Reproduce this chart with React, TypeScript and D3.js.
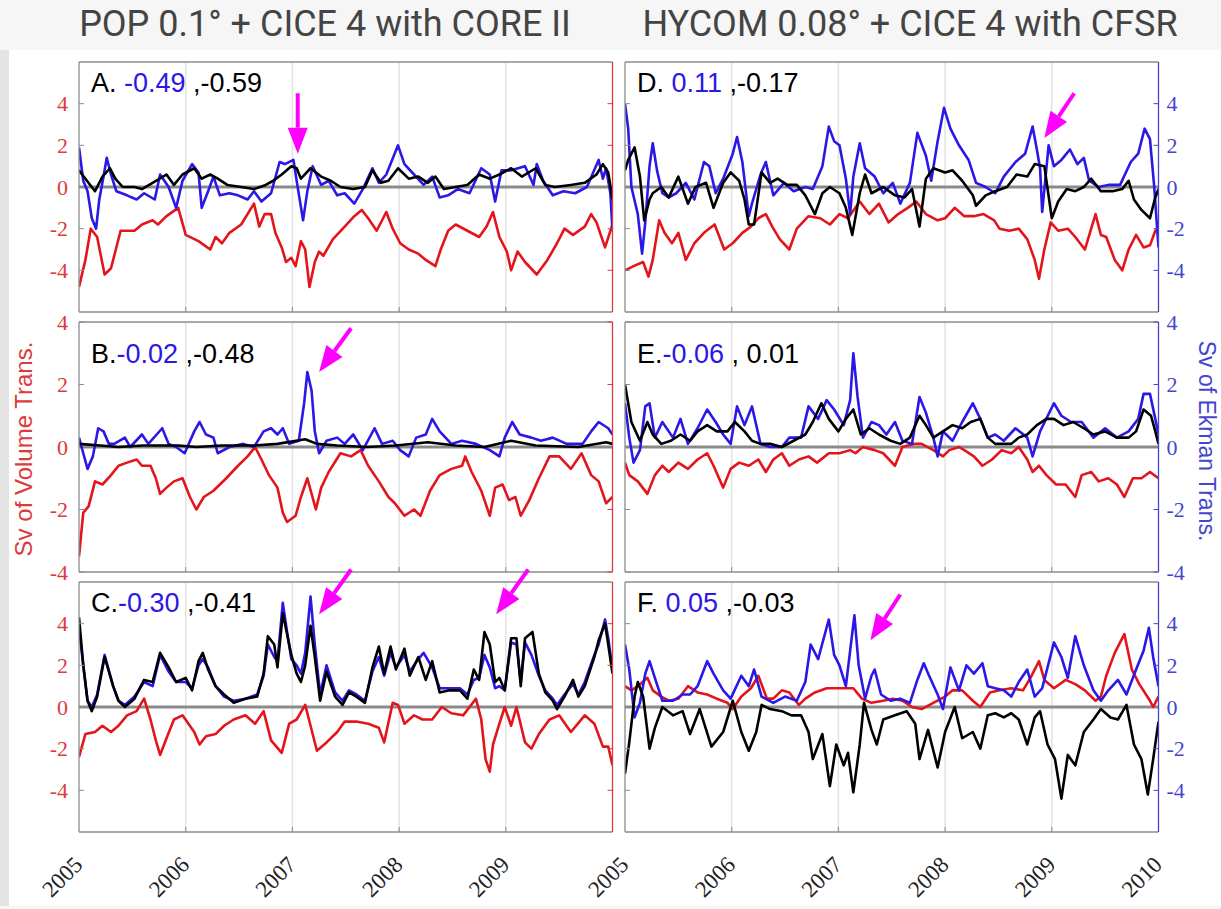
import React from 'react';
import * as d3 from 'd3';

// time (decimal year) / transport (Sv) pairs
const aRed = [[2005.00,-4.8],[2005.06,-3.5],[2005.11,-2.0],[2005.17,-2.4],[2005.24,-4.2],[2005.30,-3.9],[2005.39,-2.1],[2005.52,-2.1],[2005.59,-1.8],[2005.69,-1.6],[2005.74,-1.8],[2005.82,-1.4],[2005.93,-1.0],[2006.00,-2.3],[2006.12,-2.6],[2006.23,-3.0],[2006.28,-2.4],[2006.34,-2.7],[2006.41,-2.2],[2006.52,-1.8],[2006.64,-0.8],[2006.69,-1.9],[2006.74,-1.3],[2006.80,-1.3],[2006.84,-2.2],[2006.90,-2.9],[2006.94,-3.6],[2006.99,-3.4],[2007.03,-3.8],[2007.08,-2.6],[2007.12,-3.0],[2007.16,-4.8],[2007.21,-3.6],[2007.25,-3.1],[2007.29,-3.3],[2007.38,-2.5],[2007.49,-1.9],[2007.58,-1.4],[2007.65,-1.1],[2007.71,-1.5],[2007.79,-2.1],[2007.88,-1.2],[2007.94,-2.0],[2008.01,-2.7],[2008.09,-3.0],[2008.18,-3.2],[2008.25,-3.5],[2008.34,-3.8],[2008.39,-3.0],[2008.46,-2.1],[2008.53,-1.8],[2008.64,-2.1],[2008.75,-2.4],[2008.82,-1.9],[2008.88,-1.2],[2008.94,-2.4],[2009.01,-3.1],[2009.05,-4.0],[2009.11,-3.1],[2009.18,-3.6],[2009.29,-4.2],[2009.39,-3.5],[2009.48,-2.7],[2009.55,-2.0],[2009.63,-2.3],[2009.74,-1.9],[2009.80,-1.3],[2009.85,-1.7],[2009.93,-2.9],[2010.00,-1.8]];
const aBlue = [[2005.00,1.9],[2005.04,0.3],[2005.08,-0.2],[2005.12,-1.5],[2005.16,-2.0],[2005.19,-0.6],[2005.23,0.5],[2005.26,1.4],[2005.30,0.6],[2005.35,-0.2],[2005.45,-0.4],[2005.54,-0.6],[2005.61,-0.3],[2005.71,-0.6],[2005.76,0.6],[2005.84,0.0],[2005.91,-1.0],[2005.97,0.3],[2006.06,1.1],[2006.12,0.7],[2006.15,-1.0],[2006.21,-0.2],[2006.26,0.5],[2006.32,-0.4],[2006.41,-0.3],[2006.49,-0.4],[2006.58,-0.6],[2006.64,-0.2],[2006.71,-0.7],[2006.80,-0.3],[2006.88,1.2],[2006.93,1.1],[2007.01,1.3],[2007.04,0.3],[2007.10,-1.6],[2007.14,-0.2],[2007.19,1.0],[2007.27,0.1],[2007.34,0.3],[2007.42,-0.4],[2007.49,-0.3],[2007.58,-0.8],[2007.66,-0.1],[2007.75,0.9],[2007.81,0.2],[2007.88,0.6],[2007.99,2.0],[2008.05,1.1],[2008.14,0.6],[2008.23,0.1],[2008.31,0.5],[2008.38,-0.5],[2008.46,-0.4],[2008.55,-0.1],[2008.66,-0.3],[2008.77,0.9],[2008.85,0.6],[2008.90,-0.7],[2008.96,0.8],[2009.05,0.8],[2009.18,1.0],[2009.26,0.1],[2009.29,1.1],[2009.35,0.3],[2009.44,-0.4],[2009.54,-0.2],[2009.65,-0.3],[2009.76,0.0],[2009.87,1.3],[2009.91,0.4],[2009.94,0.9],[2009.98,-0.3],[2010.00,-2.1]];
const aBlack = [[2005.00,0.8],[2005.06,0.4],[2005.15,-0.2],[2005.22,0.5],[2005.29,0.9],[2005.34,0.4],[2005.41,0.0],[2005.52,0.0],[2005.59,-0.1],[2005.69,0.2],[2005.82,0.6],[2005.89,0.1],[2005.97,0.6],[2006.08,0.9],[2006.15,0.4],[2006.23,0.6],[2006.30,0.4],[2006.39,0.1],[2006.52,0.0],[2006.64,-0.1],[2006.75,0.1],[2006.82,0.3],[2006.90,0.6],[2006.99,1.0],[2007.04,0.9],[2007.08,0.4],[2007.17,0.9],[2007.27,0.5],[2007.36,0.3],[2007.45,0.0],[2007.57,-0.1],[2007.68,0.0],[2007.75,0.8],[2007.83,0.2],[2007.90,0.3],[2007.99,0.9],[2008.09,0.4],[2008.18,0.5],[2008.27,0.2],[2008.34,0.5],[2008.42,-0.1],[2008.53,0.0],[2008.64,0.1],[2008.75,0.6],[2008.85,0.4],[2008.94,0.6],[2009.05,0.9],[2009.15,0.5],[2009.28,0.9],[2009.37,0.1],[2009.46,0.0],[2009.61,0.1],[2009.74,0.2],[2009.85,0.6],[2009.91,1.1],[2009.96,0.7],[2010.00,-0.6]];

const bRed = [[2005.00,-3.5],[2005.04,-2.1],[2005.09,-1.9],[2005.15,-1.1],[2005.22,-1.2],[2005.30,-0.9],[2005.37,-0.6],[2005.45,-0.5],[2005.54,-0.4],[2005.59,-0.6],[2005.67,-0.6],[2005.72,-1.0],[2005.76,-1.5],[2005.82,-1.3],[2005.89,-1.1],[2005.97,-1.0],[2006.04,-1.6],[2006.10,-2.0],[2006.17,-1.6],[2006.26,-1.4],[2006.38,-1.0],[2006.49,-0.6],[2006.58,-0.3],[2006.65,0.0],[2006.71,-0.4],[2006.78,-0.9],[2006.86,-1.3],[2006.91,-2.1],[2006.95,-2.4],[2007.03,-2.2],[2007.08,-1.6],[2007.14,-1.0],[2007.18,-1.5],[2007.22,-2.0],[2007.27,-1.3],[2007.34,-0.8],[2007.45,-0.2],[2007.55,-0.3],[2007.64,-0.1],[2007.71,-0.6],[2007.81,-1.1],[2007.90,-1.6],[2007.96,-1.8],[2008.05,-2.2],[2008.14,-2.0],[2008.20,-2.2],[2008.29,-1.4],[2008.38,-0.9],[2008.49,-0.7],[2008.59,-0.6],[2008.62,-0.3],[2008.68,-0.8],[2008.77,-1.4],[2008.85,-2.2],[2008.90,-1.3],[2008.97,-1.2],[2009.03,-1.7],[2009.09,-1.6],[2009.14,-2.2],[2009.22,-1.7],[2009.31,-1.0],[2009.41,-0.3],[2009.50,-0.3],[2009.61,-0.7],[2009.71,-0.2],[2009.80,-0.9],[2009.87,-1.1],[2009.94,-1.8],[2010.00,-1.6]];
const bBlue = [[2005.00,0.3],[2005.04,-0.2],[2005.08,-0.7],[2005.13,-0.3],[2005.18,0.6],[2005.23,0.5],[2005.28,0.1],[2005.33,0.1],[2005.43,0.3],[2005.48,0.0],[2005.59,0.4],[2005.65,0.1],[2005.78,0.6],[2005.84,0.1],[2005.91,0.0],[2005.99,-0.2],[2006.08,0.5],[2006.13,0.8],[2006.19,0.4],[2006.26,0.3],[2006.30,-0.2],[2006.41,0.0],[2006.54,0.1],[2006.64,0.0],[2006.73,0.5],[2006.80,0.6],[2006.86,0.4],[2006.91,0.6],[2006.97,0.1],[2007.06,0.2],[2007.11,1.4],[2007.14,2.4],[2007.18,1.8],[2007.21,0.5],[2007.25,-0.2],[2007.32,0.2],[2007.42,0.3],[2007.49,0.1],[2007.57,0.4],[2007.66,-0.1],[2007.77,0.6],[2007.84,0.1],[2007.94,0.2],[2008.01,-0.1],[2008.09,-0.3],[2008.16,0.3],[2008.25,0.4],[2008.31,0.9],[2008.38,0.5],[2008.49,0.1],[2008.59,0.2],[2008.72,0.1],[2008.85,-0.1],[2008.94,-0.3],[2008.99,0.3],[2009.06,0.8],[2009.13,0.4],[2009.24,0.3],[2009.33,0.2],[2009.44,0.3],[2009.57,0.1],[2009.72,0.1],[2009.80,0.5],[2009.87,0.8],[2009.96,0.6],[2010.00,0.4]];
const bBlack = [[2005.00,0.1],[2005.20,0.05],[2005.37,0.0],[2005.60,0.05],[2005.93,0.05],[2006.10,0.0],[2006.34,0.05],[2006.64,0.05],[2006.86,0.1],[2007.12,0.25],[2007.23,0.1],[2007.42,0.05],[2007.70,0.0],[2007.97,0.05],[2008.27,0.15],[2008.53,0.05],[2008.80,0.0],[2009.05,0.2],[2009.28,0.05],[2009.68,0.0],[2009.94,0.15],[2010.00,0.1]];

const cRed = [[2005.00,-2.4],[2005.06,-1.3],[2005.15,-1.2],[2005.22,-0.9],[2005.30,-1.2],[2005.37,-0.9],[2005.45,-0.4],[2005.54,-0.2],[2005.61,0.4],[2005.67,-0.6],[2005.72,-1.6],[2005.76,-2.3],[2005.82,-1.5],[2005.89,-0.6],[2005.97,-0.4],[2006.08,-1.2],[2006.13,-1.8],[2006.19,-1.4],[2006.28,-1.3],[2006.36,-0.9],[2006.45,-0.6],[2006.56,-0.4],[2006.65,-0.8],[2006.73,-0.2],[2006.80,-1.6],[2006.90,-2.2],[2006.97,-0.8],[2007.04,-0.6],[2007.12,0.1],[2007.17,-0.9],[2007.23,-2.1],[2007.32,-1.7],[2007.42,-1.2],[2007.49,-0.7],[2007.60,-0.7],[2007.71,-0.8],[2007.81,-1.0],[2007.86,-1.7],[2007.94,0.2],[2007.99,0.1],[2008.05,-0.8],[2008.14,-0.4],[2008.22,-0.6],[2008.31,-0.6],[2008.40,0.0],[2008.49,-0.3],[2008.60,-0.4],[2008.72,0.4],[2008.77,-0.6],[2008.81,-2.5],[2008.85,-3.1],[2008.88,-1.8],[2008.94,-0.8],[2008.99,0.0],[2009.05,-0.9],[2009.10,0.0],[2009.18,-1.7],[2009.24,-2.0],[2009.31,-1.3],[2009.41,-0.6],[2009.50,-0.4],[2009.61,-1.2],[2009.74,-0.4],[2009.83,-0.8],[2009.91,-1.9],[2009.96,-1.9],[2010.00,-2.8]];
const cBlue = [[2005.00,3.8],[2005.04,2.0],[2005.08,0.3],[2005.12,0.0],[2005.17,0.6],[2005.24,2.5],[2005.32,1.0],[2005.37,0.3],[2005.43,0.1],[2005.52,0.5],[2005.61,1.2],[2005.69,1.0],[2005.76,2.5],[2005.84,1.7],[2005.91,1.2],[2006.00,1.2],[2006.06,0.9],[2006.12,2.0],[2006.16,2.3],[2006.21,1.9],[2006.28,1.0],[2006.36,0.5],[2006.45,0.3],[2006.56,0.4],[2006.67,0.6],[2006.73,1.5],[2006.77,3.0],[2006.83,2.4],[2006.86,2.2],[2006.91,5.0],[2006.95,3.6],[2006.99,2.3],[2007.04,2.0],[2007.08,1.6],[2007.12,2.6],[2007.17,5.3],[2007.21,3.0],[2007.26,0.6],[2007.32,2.0],[2007.40,0.7],[2007.47,0.3],[2007.53,0.8],[2007.60,0.6],[2007.68,0.3],[2007.75,1.7],[2007.81,2.4],[2007.86,1.5],[2007.92,2.6],[2007.97,1.9],[2008.05,2.5],[2008.10,1.7],[2008.18,2.3],[2008.23,2.6],[2008.31,1.9],[2008.38,0.9],[2008.47,0.9],[2008.57,0.9],[2008.64,0.6],[2008.70,1.3],[2008.75,1.4],[2008.80,2.5],[2008.85,1.9],[2008.90,0.9],[2008.94,1.0],[2008.99,0.8],[2009.05,3.1],[2009.10,3.0],[2009.14,1.2],[2009.18,3.1],[2009.24,2.5],[2009.31,1.5],[2009.37,0.8],[2009.44,0.4],[2009.48,0.1],[2009.55,0.6],[2009.63,1.1],[2009.68,0.6],[2009.74,1.2],[2009.83,2.5],[2009.87,3.0],[2009.93,4.2],[2009.96,3.3],[2010.00,1.8]];
const cBlack = [[2005.00,4.3],[2005.04,2.0],[2005.08,0.3],[2005.12,-0.2],[2005.17,0.5],[2005.24,2.4],[2005.32,1.0],[2005.37,0.3],[2005.43,0.0],[2005.52,0.4],[2005.61,1.3],[2005.69,1.2],[2005.76,2.6],[2005.84,1.9],[2005.91,1.2],[2006.00,1.4],[2006.06,0.8],[2006.12,2.2],[2006.16,2.6],[2006.21,1.8],[2006.28,1.0],[2006.36,0.6],[2006.45,0.2],[2006.56,0.4],[2006.67,0.5],[2006.73,1.6],[2006.77,3.4],[2006.83,3.0],[2006.86,1.9],[2006.91,4.5],[2006.95,3.5],[2006.99,2.5],[2007.04,1.6],[2007.08,1.2],[2007.12,2.0],[2007.17,3.9],[2007.21,2.4],[2007.26,0.3],[2007.32,1.7],[2007.40,0.5],[2007.47,0.1],[2007.53,0.7],[2007.60,0.5],[2007.68,0.2],[2007.75,1.9],[2007.81,2.9],[2007.86,1.6],[2007.92,2.9],[2007.97,1.8],[2008.05,2.8],[2008.10,1.5],[2008.18,2.4],[2008.25,1.3],[2008.31,2.2],[2008.38,0.7],[2008.47,0.8],[2008.57,0.8],[2008.64,0.4],[2008.70,1.8],[2008.75,1.3],[2008.80,3.6],[2008.85,3.0],[2008.90,1.2],[2008.94,1.4],[2008.99,0.8],[2009.05,3.3],[2009.10,3.3],[2009.14,1.0],[2009.18,3.3],[2009.25,3.6],[2009.31,1.6],[2009.37,0.7],[2009.44,0.3],[2009.48,-0.1],[2009.55,0.5],[2009.63,1.3],[2009.68,0.5],[2009.74,1.0],[2009.83,2.4],[2009.87,3.2],[2009.93,4.0],[2009.96,3.0],[2010.00,1.6]];

const dRed = [[2005.00,-4.0],[2005.08,-3.8],[2005.17,-3.6],[2005.22,-4.3],[2005.26,-3.5],[2005.32,-1.6],[2005.37,-2.2],[2005.44,-2.7],[2005.50,-2.2],[2005.57,-3.5],[2005.65,-2.7],[2005.74,-2.2],[2005.84,-1.8],[2005.93,-3.0],[2006.01,-2.7],[2006.10,-2.2],[2006.18,-1.9],[2006.25,-1.5],[2006.32,-1.3],[2006.38,-1.9],[2006.45,-2.5],[2006.54,-3.0],[2006.61,-2.0],[2006.72,-1.4],[2006.83,-1.5],[2006.92,-1.8],[2007.01,-1.3],[2007.09,-1.5],[2007.20,-0.7],[2007.29,-1.3],[2007.38,-0.8],[2007.47,-1.7],[2007.56,-1.3],[2007.65,-1.0],[2007.73,-0.7],[2007.82,-1.3],[2007.93,-1.6],[2008.00,-1.5],[2008.09,-1.0],[2008.18,-1.4],[2008.27,-1.4],[2008.36,-1.3],[2008.46,-1.6],[2008.51,-2.0],[2008.60,-2.1],[2008.69,-2.0],[2008.77,-2.5],[2008.84,-3.5],[2008.88,-4.4],[2008.93,-3.0],[2008.99,-1.7],[2009.06,-2.1],[2009.15,-2.0],[2009.22,-2.4],[2009.31,-3.0],[2009.41,-1.3],[2009.46,-2.3],[2009.51,-2.4],[2009.59,-3.5],[2009.66,-4.0],[2009.72,-3.0],[2009.79,-2.3],[2009.86,-2.9],[2009.92,-2.8],[2009.97,-2.1],[2010.00,-2.0]];
const dBlue = [[2005.00,4.0],[2005.03,2.8],[2005.06,0.0],[2005.12,-1.3],[2005.16,-3.2],[2005.19,-1.7],[2005.23,1.0],[2005.26,2.1],[2005.30,0.8],[2005.35,-0.3],[2005.41,-0.5],[2005.48,-0.3],[2005.57,0.2],[2005.65,-0.6],[2005.74,1.2],[2005.79,1.0],[2005.85,-0.3],[2005.92,0.4],[2006.01,1.6],[2006.05,2.4],[2006.10,1.2],[2006.16,-1.4],[2006.19,-0.8],[2006.27,0.6],[2006.32,1.2],[2006.39,-0.4],[2006.49,0.2],[2006.58,-0.2],[2006.69,0.0],[2006.76,-0.1],[2006.85,1.0],[2006.91,2.9],[2006.96,2.2],[2007.01,2.0],[2007.07,0.4],[2007.11,-1.3],[2007.14,0.5],[2007.20,2.1],[2007.25,0.9],[2007.34,0.5],[2007.42,-0.3],[2007.51,0.2],[2007.58,-0.8],[2007.67,0.2],[2007.74,2.6],[2007.82,1.5],[2007.87,0.3],[2007.93,2.2],[2007.99,3.8],[2008.05,2.8],[2008.13,2.0],[2008.22,1.3],[2008.29,0.2],[2008.38,0.0],[2008.47,-0.3],[2008.55,0.5],[2008.66,1.2],[2008.75,1.6],[2008.82,2.9],[2008.86,1.8],[2008.89,0.9],[2008.91,-1.2],[2008.97,2.0],[2009.02,1.0],[2009.09,1.3],[2009.17,1.8],[2009.24,1.1],[2009.30,1.4],[2009.35,0.3],[2009.44,0.0],[2009.53,0.1],[2009.64,0.1],[2009.74,1.2],[2009.81,1.6],[2009.87,2.8],[2009.92,2.3],[2009.96,0.0],[2010.00,-2.9]];
const dBlack = [[2005.00,0.8],[2005.03,1.3],[2005.09,1.9],[2005.14,0.5],[2005.18,-1.6],[2005.23,-0.6],[2005.26,-0.3],[2005.34,0.0],[2005.41,-0.5],[2005.50,0.5],[2005.59,-0.8],[2005.66,0.0],[2005.76,0.2],[2005.83,-1.0],[2005.92,0.2],[2005.99,0.7],[2006.07,0.3],[2006.12,-0.6],[2006.16,-1.8],[2006.21,-1.8],[2006.28,0.7],[2006.36,0.2],[2006.43,0.4],[2006.52,0.1],[2006.61,0.1],[2006.69,-0.4],[2006.78,-1.3],[2006.85,-0.3],[2006.92,0.0],[2007.01,-0.3],[2007.07,-1.0],[2007.13,-2.3],[2007.20,-0.3],[2007.25,0.6],[2007.31,-0.3],[2007.42,0.0],[2007.53,-0.4],[2007.62,-0.5],[2007.69,-0.1],[2007.76,-1.9],[2007.82,0.4],[2007.89,0.9],[2008.00,0.7],[2008.07,0.8],[2008.16,0.3],[2008.26,-0.4],[2008.29,-0.9],[2008.38,-0.4],[2008.47,-0.2],[2008.58,0.0],[2008.67,0.6],[2008.77,0.5],[2008.84,1.1],[2008.93,1.0],[2009.00,-1.5],[2009.06,-0.7],[2009.14,-0.1],[2009.22,-0.2],[2009.30,0.0],[2009.37,0.4],[2009.46,-0.2],[2009.57,-0.2],[2009.66,-0.1],[2009.72,0.3],[2009.77,-0.6],[2009.84,-1.1],[2009.92,-1.5],[2009.97,-0.5],[2010.00,-0.1]];

const eRed = [[2005.00,-0.5],[2005.04,-0.9],[2005.12,-1.1],[2005.21,-1.5],[2005.28,-0.9],[2005.35,-0.6],[2005.41,-0.8],[2005.50,-0.5],[2005.59,-0.7],[2005.68,-0.4],[2005.77,-0.2],[2005.83,-0.6],[2005.92,-1.3],[2005.99,-0.7],[2006.07,-0.5],[2006.16,-0.6],[2006.25,-0.4],[2006.32,-0.8],[2006.39,-0.4],[2006.47,-0.2],[2006.54,-0.6],[2006.63,-0.4],[2006.72,-0.3],[2006.80,-0.5],[2006.91,-0.2],[2007.01,-0.2],[2007.11,-0.1],[2007.16,-0.2],[2007.23,0.0],[2007.34,-0.1],[2007.42,-0.2],[2007.53,-0.6],[2007.60,0.0],[2007.71,0.1],[2007.78,0.1],[2007.89,-0.1],[2007.98,-0.3],[2008.04,-0.1],[2008.13,0.0],[2008.18,-0.1],[2008.27,-0.3],[2008.35,-0.6],[2008.44,-0.4],[2008.53,-0.1],[2008.62,-0.2],[2008.69,0.0],[2008.77,-0.4],[2008.82,-0.8],[2008.88,-0.6],[2008.95,-0.9],[2009.04,-1.2],[2009.13,-1.2],[2009.22,-1.6],[2009.28,-0.9],[2009.37,-0.8],[2009.44,-1.1],[2009.53,-1.0],[2009.61,-1.2],[2009.68,-1.6],[2009.76,-1.0],[2009.84,-1.0],[2009.92,-0.8],[2010.00,-1.0]];
const eBlue = [[2005.00,1.4],[2005.04,0.3],[2005.08,-0.5],[2005.14,-0.1],[2005.19,1.3],[2005.23,1.4],[2005.28,0.3],[2005.35,0.8],[2005.45,0.3],[2005.52,0.9],[2005.59,0.1],[2005.68,0.6],[2005.77,1.2],[2005.85,0.8],[2005.92,0.4],[2005.99,0.1],[2006.05,1.3],[2006.12,0.7],[2006.19,1.3],[2006.27,0.1],[2006.36,0.0],[2006.47,0.0],[2006.54,0.3],[2006.65,0.3],[2006.72,1.3],[2006.81,0.9],[2006.89,1.5],[2006.96,1.2],[2007.05,0.7],[2007.11,1.5],[2007.14,3.0],[2007.18,1.6],[2007.23,0.3],[2007.31,0.8],[2007.38,0.7],[2007.45,0.4],[2007.53,0.8],[2007.60,0.2],[2007.69,0.1],[2007.76,1.6],[2007.82,1.1],[2007.89,0.3],[2007.93,-0.3],[2007.98,0.5],[2008.07,0.2],[2008.16,0.8],[2008.26,1.4],[2008.33,0.9],[2008.40,0.3],[2008.47,0.4],[2008.55,0.2],[2008.66,0.6],[2008.77,0.3],[2008.82,-0.3],[2008.89,0.5],[2009.02,1.4],[2009.09,1.0],[2009.18,0.8],[2009.28,0.8],[2009.39,0.3],[2009.50,0.6],[2009.61,0.3],[2009.72,0.5],[2009.81,0.9],[2009.86,1.7],[2009.92,1.7],[2009.97,0.9],[2010.00,0.4]];
const eBlack = [[2005.00,2.0],[2005.06,0.8],[2005.14,0.2],[2005.21,0.8],[2005.26,0.4],[2005.34,0.1],[2005.43,0.2],[2005.52,0.4],[2005.61,0.2],[2005.68,0.5],[2005.77,0.7],[2005.86,0.5],[2005.96,0.5],[2006.03,0.8],[2006.12,0.5],[2006.19,0.2],[2006.27,0.1],[2006.36,0.1],[2006.47,0.0],[2006.58,0.2],[2006.69,0.4],[2006.76,0.8],[2006.84,1.4],[2006.91,0.9],[2007.00,0.5],[2007.07,0.9],[2007.14,1.2],[2007.21,0.4],[2007.29,0.6],[2007.38,0.4],[2007.49,0.2],[2007.58,0.1],[2007.67,0.3],[2007.76,1.0],[2007.82,0.7],[2007.89,0.3],[2007.98,0.5],[2008.07,0.7],[2008.16,0.6],[2008.24,0.8],[2008.33,0.9],[2008.40,0.3],[2008.47,0.1],[2008.55,0.1],[2008.62,0.1],[2008.69,0.3],[2008.77,0.4],[2008.86,0.7],[2008.95,0.9],[2009.02,0.9],[2009.11,0.7],[2009.20,0.8],[2009.30,0.6],[2009.39,0.4],[2009.50,0.5],[2009.61,0.3],[2009.72,0.3],[2009.79,0.5],[2009.86,1.2],[2009.93,1.0],[2009.97,0.5],[2010.00,0.1]];

const fRed = [[2005.00,1.0],[2005.06,0.8],[2005.12,1.0],[2005.21,1.4],[2005.26,0.8],[2005.34,0.5],[2005.41,0.3],[2005.50,0.4],[2005.59,1.0],[2005.68,0.7],[2005.77,0.6],[2005.86,0.4],[2005.96,0.2],[2006.01,-0.1],[2006.09,0.5],[2006.18,0.9],[2006.25,1.5],[2006.33,0.4],[2006.39,0.4],[2006.47,0.8],[2006.54,0.7],[2006.63,0.1],[2006.69,0.4],[2006.78,0.7],[2006.89,0.9],[2006.96,0.9],[2007.05,0.9],[2007.14,0.9],[2007.22,0.4],[2007.31,0.2],[2007.42,0.3],[2007.51,0.4],[2007.60,0.3],[2007.69,0.0],[2007.78,-0.1],[2007.89,0.2],[2008.00,0.5],[2008.07,0.8],[2008.16,0.8],[2008.26,0.3],[2008.33,0.0],[2008.42,0.7],[2008.51,0.8],[2008.62,0.9],[2008.73,0.8],[2008.80,1.4],[2008.88,2.2],[2008.93,1.3],[2009.02,0.9],[2009.13,1.3],[2009.22,1.1],[2009.31,0.8],[2009.41,0.3],[2009.46,0.5],[2009.51,1.5],[2009.59,2.6],[2009.68,3.5],[2009.75,1.8],[2009.82,1.1],[2009.92,0.3],[2009.95,0.0],[2010.00,0.5]];
const fBlue = [[2005.00,3.0],[2005.04,1.8],[2005.09,-0.5],[2005.14,0.2],[2005.19,1.6],[2005.23,2.2],[2005.28,1.4],[2005.35,0.3],[2005.45,0.3],[2005.54,0.6],[2005.61,0.6],[2005.68,1.0],[2005.77,2.2],[2005.83,1.6],[2005.92,0.8],[2005.99,0.4],[2006.09,1.5],[2006.16,1.0],[2006.21,1.8],[2006.28,0.5],[2006.39,0.2],[2006.50,0.5],[2006.61,0.3],[2006.69,1.2],[2006.74,3.0],[2006.81,2.3],[2006.91,4.2],[2006.96,2.5],[2007.01,2.0],[2007.07,1.0],[2007.15,4.4],[2007.19,2.0],[2007.25,0.4],[2007.31,1.5],[2007.34,1.8],[2007.40,0.6],[2007.49,0.3],[2007.58,0.4],[2007.67,0.2],[2007.74,1.3],[2007.80,2.1],[2007.85,1.5],[2007.93,0.6],[2007.98,-0.1],[2008.05,1.9],[2008.13,0.8],[2008.20,2.0],[2008.27,1.6],[2008.35,2.1],[2008.40,1.0],[2008.47,0.9],[2008.55,0.8],[2008.62,0.5],[2008.69,1.2],[2008.77,1.8],[2008.84,0.5],[2008.91,0.9],[2009.02,3.1],[2009.09,2.4],[2009.15,1.4],[2009.22,3.4],[2009.30,2.0],[2009.39,0.8],[2009.46,0.3],[2009.53,0.8],[2009.62,1.3],[2009.70,0.6],[2009.79,1.8],[2009.86,2.7],[2009.91,3.8],[2009.95,2.4],[2010.00,1.0]];
const fBlack = [[2005.00,-3.2],[2005.04,-1.7],[2005.09,0.5],[2005.12,1.2],[2005.17,0.5],[2005.23,-2.0],[2005.28,-1.0],[2005.35,0.0],[2005.45,-0.4],[2005.54,-0.2],[2005.61,-1.3],[2005.70,-0.1],[2005.81,-1.9],[2005.92,-1.2],[2006.01,0.3],[2006.09,-1.2],[2006.16,-2.1],[2006.23,-1.2],[2006.28,0.1],[2006.36,-0.1],[2006.47,-0.2],[2006.56,-0.4],[2006.65,-0.4],[2006.72,-1.2],[2006.76,-2.5],[2006.85,-1.3],[2006.92,-3.8],[2006.98,-1.8],[2007.05,-2.8],[2007.09,-2.2],[2007.14,-4.1],[2007.20,-1.8],[2007.24,0.2],[2007.31,-1.1],[2007.36,-1.8],[2007.42,-0.6],[2007.53,-0.4],[2007.64,-0.2],[2007.72,-0.8],[2007.76,-2.5],[2007.84,-1.1],[2007.93,-2.9],[2008.00,-1.2],[2008.09,0.0],[2008.16,-1.5],[2008.26,-1.2],[2008.33,-2.0],[2008.40,-0.4],[2008.47,-0.3],[2008.55,-0.5],[2008.62,-0.3],[2008.69,-0.6],[2008.77,-1.8],[2008.84,-0.5],[2008.89,-0.2],[2008.96,-1.8],[2009.03,-2.5],[2009.09,-4.4],[2009.15,-2.3],[2009.22,-2.8],[2009.30,-1.2],[2009.39,-0.6],[2009.46,-0.1],[2009.55,-0.5],[2009.62,-0.6],[2009.70,0.1],[2009.77,-1.8],[2009.84,-2.5],[2009.90,-4.2],[2009.95,-2.5],[2010.00,-0.7]];

// panel labels: letter, blue correlation, black correlation
const panelLetters = ['A. ', 'B.', 'C.', 'D. ', 'E.', 'F. '];
const blueCorr = ['-0.49', '-0.02', '-0.30', '0.11', '-0.06', '0.05'];
const blackCorr = [' ,-0.59', ' ,-0.48', ' ,-0.41', ' ,-0.17', ' , 0.01', ' ,-0.03'];

// arrows as [tailYear, tailValue, tipYear, tipValue]
const arrowsA = [[2007.05, 4.5, 2007.05, 1.6]];
const arrowsB = [[2007.55, 3.8, 2007.25, 2.4]];
const arrowsC = [[2007.55, 6.6, 2007.25, 4.45], [2009.21, 6.6, 2008.91, 4.45]];
const arrowsD = [[2009.21, 4.5, 2008.93, 2.35]];
const arrowsE: number[][] = [];
const arrowsF = [[2007.58, 5.4, 2007.3, 3.2]];

const years = [2005, 2006, 2007, 2008, 2009, 2010];
const yTicks = [-4, -2, 0, 2, 4];
const titles = ['POP 0.1° + CICE 4 with CORE II', 'HYCOM 0.08° + CICE 4 with CFSR'];

const RED = '#e3151b';
const BLUE = '#2b17e6';
const AX_RED = '#dd3a3a';
const AX_BLUE = '#4646cc';
const SERIF = 'Liberation Serif';
const SANS = 'Liberation Sans';

const cols = [{ x0: 79, x1: 612.5 }, { x0: 625, x1: 1158.5 }];
const rows = [{ y0: 62, y1: 312 }, { y0: 322, y1: 572 }, { y0: 582, y1: 832 }];

const panels = [
  { col: 0, row: 0, red: aRed, blue: aBlue, black: aBlack, arrows: arrowsA },
  { col: 0, row: 1, red: bRed, blue: bBlue, black: bBlack, arrows: arrowsB },
  { col: 0, row: 2, red: cRed, blue: cBlue, black: cBlack, arrows: arrowsC },
  { col: 1, row: 0, red: dRed, blue: dBlue, black: dBlack, arrows: arrowsD },
  { col: 1, row: 1, red: eRed, blue: eBlue, black: eBlack, arrows: arrowsE },
  { col: 1, row: 2, red: fRed, blue: fBlue, black: fBlack, arrows: arrowsF },
];

const Arrow = ({ x1, y1, x2, y2 }) => {
  const ang = Math.atan2(y2 - y1, x2 - x1);
  const hl = 26, hw = 10;
  const bx = x2 - hl * Math.cos(ang), by = y2 - hl * Math.sin(ang);
  const px = -Math.sin(ang) * hw, py = Math.cos(ang) * hw;
  return (
    <g>
      <line x1={x1} y1={y1} x2={bx} y2={by} stroke="#ff00ff" strokeWidth={4} />
      <polygon points={`${x2},${y2} ${bx + px},${by + py} ${bx - px},${by - py}`} fill="#ff00ff" />
    </g>
  );
};

const Panel = ({ p, i }) => {
  const c = cols[p.col], r = rows[p.row];
  const lim = p.row === 1 ? 4 : 6;
  const x = d3.scaleLinear().domain([2005, 2010]).range([c.x0, c.x1]);
  const y = d3.scaleLinear().domain([-lim, lim]).range([r.y1, r.y0]);
  const line = d3.line().x(d => x(d[0])).y(d => y(d[1]));
  const clip = `clip${i}`;
  const sideColor = p.col === 0 ? AX_RED : AX_BLUE;
  const labelY = y(p.row === 1 ? 3 : 5) + 9.5;
  return (
    <g>
      <defs>
        <clipPath id={clip}>
          <rect x={c.x0} y={r.y0} width={c.x1 - c.x0} height={r.y1 - r.y0} />
        </clipPath>
      </defs>
      <rect x={c.x0} y={r.y0} width={c.x1 - c.x0} height={r.y1 - r.y0} fill="#fff" />
      {years.slice(1, -1).map(yr => (
        <line key={yr} x1={x(yr)} x2={x(yr)} y1={r.y0} y2={r.y1} stroke="#e2e2e2" strokeWidth={1.5} />
      ))}
      <line x1={c.x0} x2={c.x1} y1={y(0)} y2={y(0)} stroke="#8a8a8a" strokeWidth={3} />
      <g clipPath={`url(#${clip})`} fill="none" strokeWidth={2.6} strokeLinejoin="round">
        <path d={line(p.red)} stroke={RED} />
        <path d={line(p.blue)} stroke={BLUE} />
        <path d={line(p.black)} stroke="#000" />
      </g>
      {/* frame */}
      <line x1={c.x0} x2={c.x1} y1={r.y0} y2={r.y0} stroke="#8c8c8c" strokeWidth={1.3} />
      <line x1={c.x0} x2={c.x1} y1={r.y1} y2={r.y1} stroke="#8c8c8c" strokeWidth={1.3} />
      <line x1={c.x0} x2={c.x0} y1={r.y0} y2={r.y1} stroke="#8c8c8c" strokeWidth={1.3} />
      <line x1={c.x1} x2={c.x1} y1={r.y0} y2={r.y1} stroke={sideColor} strokeWidth={1.3} />
      {yTicks.filter(t => t !== 0).map(t => (
        <g key={t}>
          <line x1={c.x0} x2={c.x0 + 5} y1={y(t)} y2={y(t)} stroke="#8c8c8c" strokeWidth={1} />
          <line x1={c.x1 - 5} x2={c.x1} y1={y(t)} y2={y(t)} stroke={sideColor} strokeWidth={1} />
        </g>
      ))}
      {years.slice(1, -1).map(yr => (
        <line key={yr} x1={x(yr)} x2={x(yr)} y1={r.y1} y2={r.y1 - 5} stroke="#8c8c8c" strokeWidth={1} />
      ))}
      {yTicks.map(t => p.col === 0 ? (
        <text key={t} x={c.x0 - 11} y={y(t)} textAnchor="end" dominantBaseline="central"
          fontFamily={SERIF} fontSize={22} fill={AX_RED}>{t}</text>
      ) : (
        <text key={t} x={c.x1 + 8} y={y(t)} textAnchor="start" dominantBaseline="central"
          fontFamily={SERIF} fontSize={22} fill={AX_BLUE}>{t}</text>
      ))}
      <text x={c.x0 + 12} y={labelY} fontFamily={SANS} fontSize={27}
        style={{ whiteSpace: 'pre' }}>
        <tspan fill="#000">{panelLetters[i]}</tspan>
        <tspan fill={BLUE}>{blueCorr[i]}</tspan>
        <tspan fill="#000">{blackCorr[i]}</tspan>
      </text>
      {p.row === 2 && years.map(yr => (
        (p.col === 0 && yr === 2010) ? null :
        <text key={yr} transform={`translate(${x(yr) + 5},${r.y1 + 34}) rotate(-45)`} textAnchor="end"
          fontFamily={SERIF} fontSize={23} fill="#222">{yr}</text>
      ))}
      {p.arrows.map((a, k) => (
        <Arrow key={k} x1={x(a[0])} y1={y(a[1])} x2={x(a[2])} y2={y(a[3])} />
      ))}
    </g>
  );
};

export default function App() {
  return (
    <div style={{ position: 'absolute', left: 0, top: 0 }}>
      <svg width={1221} height={909} style={{ display: 'block' }}>
        <rect x={0} y={0} width={1221} height={909} fill="#f6f6f6" />
        <rect x={0} y={50} width={9} height={856} fill="#e4e4e4" />
        <rect x={9} y={50} width={1212} height={856} fill="#fff" />
        <text x={325} y={36} textAnchor="middle" fontFamily="Roboto" fontSize={36} fill="#444">{titles[0]}</text>
        <text x={910} y={36} textAnchor="middle" fontFamily="Roboto" fontSize={36} fill="#444">{titles[1]}</text>
        {panels.map((p, i) => <Panel key={i} p={p} i={i} />)}
        <text transform="translate(23,449) rotate(-90)" textAnchor="middle" dominantBaseline="central"
          fontFamily={SANS} fontSize={24} fill={AX_RED}>Sv of Volume Trans.</text>
        <text transform="translate(1207,441) rotate(90)" textAnchor="middle" dominantBaseline="central"
          fontFamily={SANS} fontSize={23} fill={AX_BLUE}>Sv of Ekman Trans.</text>
      </svg>
    </div>
  );
}
